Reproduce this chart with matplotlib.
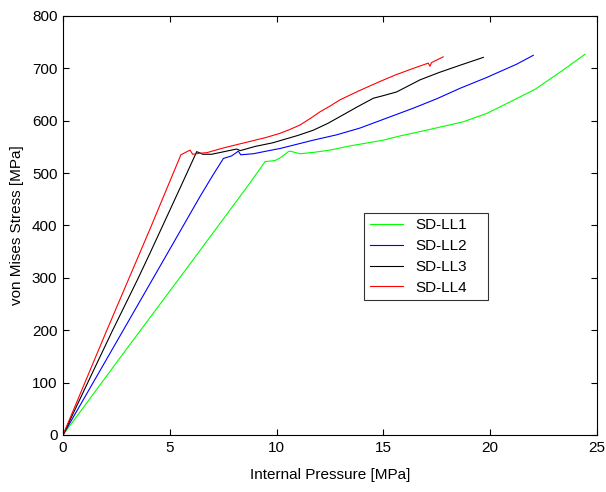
import matplotlib
matplotlib.use("Agg")
import matplotlib.pyplot as plt

plt.rcParams['font.family'] = ['Liberation Sans', 'DejaVu Sans']

# SD-LL1 (green)
x_ll1 = [0, 2.9, 5.79, 8.75, 9.46, 9.93, 10.2, 10.55, 10.63, 11.1, 11.8, 12.5,
         13.44, 15.0, 15.78, 17.02, 18.74, 19.84, 20.93, 22.1, 23.42, 24.44]
y_ll1 = [0, 160, 318, 481, 522, 524, 530, 541, 542, 537, 540, 544,
         552, 563, 571, 582, 598, 614, 636, 660, 697, 727]

# SD-LL2 (blue)
x_ll2 = [0, 2.2, 4.54, 6.41, 7.0, 7.51, 7.9, 8.21, 8.32, 8.91, 9.77,
         10.16, 11.72, 12.8, 13.9, 15.15, 16.4, 17.5, 18.59, 19.8, 21.24, 22.02]
y_ll2 = [0, 156, 322, 455, 495, 528, 533, 542, 535, 537, 544,
         547, 563, 573, 586, 605, 624, 642, 662, 682, 708, 725]

# SD-LL3 (black)
x_ll3 = [0, 1.1, 2.3, 3.48, 4.07, 5.0, 5.7, 6.26, 6.55, 6.96, 7.66, 8.13, 8.3, 9.0,
         9.83, 10.16, 11.0, 11.72, 12.4, 12.97, 13.8, 14.53, 15.0, 15.62, 16.71, 17.6, 18.59, 19.68]
y_ll3 = [0, 95, 198, 296, 347, 429, 491, 541, 536, 536, 542, 546, 543, 551,
         558, 562, 572, 582, 595, 608, 627, 643, 648, 655, 678, 692, 706, 721]

# SD-LL4 (red)
x_ll4 = [0, 2.0, 4.07, 5.52, 5.95, 6.07, 6.4, 6.73, 7.5, 8.5, 9.5, 10.16,
         10.6, 11.1, 11.6, 12.03, 12.5, 12.97, 13.9, 14.84, 15.6, 16.4, 17.1, 17.18, 17.25, 17.8]
y_ll4 = [0, 195, 393, 535, 544, 536, 538, 539, 548, 558, 568, 576,
         583, 592, 605, 617, 628, 640, 658, 675, 688, 700, 710, 704, 711, 722]

fig = plt.figure(figsize=(6.06, 4.92), dpi=100, facecolor='white')
ax = fig.add_axes([63 / 606, 57 / 492, 534 / 606, 419 / 492])

lw = 0.8
ax.plot(x_ll1, y_ll1, color=(0, 1, 0), lw=lw, label='SD-LL1')
ax.plot(x_ll2, y_ll2, color=(0, 0, 1), lw=lw, label='SD-LL2')
ax.plot(x_ll3, y_ll3, color='black', lw=lw, label='SD-LL3')
ax.plot(x_ll4, y_ll4, color=(1, 0, 0), lw=lw, label='SD-LL4')

ax.set_xlim(0, 25)
ax.set_ylim(0, 800)
ax.set_xticks(range(0, 26, 5))
ax.set_yticks(range(0, 801, 100))
ax.tick_params(direction='in', top=True, right=True, labelsize=11, length=4, width=0.8, pad=4)
for s in ax.spines.values():
    s.set_linewidth(0.8)

ax.set_xlabel('Internal Pressure [MPa]', fontsize=11, labelpad=10)
ax.set_ylabel('von Mises Stress [MPa]', fontsize=11, labelpad=6)

leg = ax.legend(loc='lower left', bbox_to_anchor=(0.564, 0.322, 0.232, 0.208), mode='expand',
                fontsize=11, frameon=True, fancybox=False, borderaxespad=0,
                handlelength=2.2, labelspacing=0.45, borderpad=0.35)
leg.get_frame().set_edgecolor('black')
leg.get_frame().set_linewidth(0.8)

fig.savefig('out.png', dpi=100, facecolor='white')
